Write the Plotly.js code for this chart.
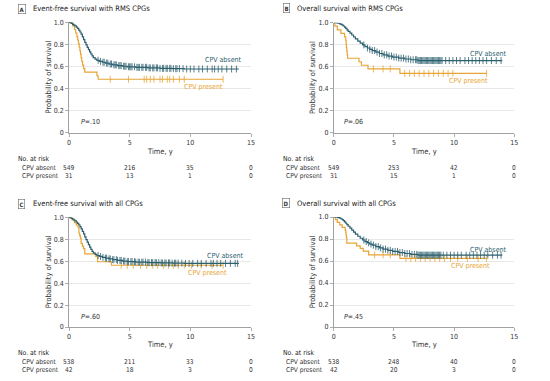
<!DOCTYPE html>
<html>
<head>
<meta charset="utf-8">
<script src="https://cdn.plot.ly/plotly-3.0.1.min.js"></script>
<style>html,body{margin:0;padding:0;background:#fff;}#chart{width:550px;height:381px;}</style>
</head>
<body>
<div id="chart"></div>
<script>
// ---------- DATA ----------
const panelTitles = ["Event-free survival with RMS CPGs", "Overall survival with RMS CPGs",
                     "Event-free survival with all CPGs", "Overall survival with all CPGs"];
const panelLetters = ["A", "B", "C", "D"];
const pValues = ["<i>P</i>=.10", "<i>P</i>=.06", "<i>P</i>=.60", "<i>P</i>=.45"];
const seriesNames = ["CPV absent", "CPV present"];
const xTicks = [0, 5, 10, 15];
const yTickVals = [0, 0.2, 0.4, 0.6, 0.8, 1.0];
const yTickText = ["0", "0.2", "0.4", "0.6", "0.8", "1.0"];

// Panel A – EFS, RMS CPGs
const tA_abs = [0, 0.1, 0.2, 0.3, 0.4, 0.5, 0.6, 0.7, 0.8, 0.9, 1.0, 1.1, 1.2, 1.3, 1.4, 1.5, 1.6, 1.7, 1.8, 1.9, 2.0, 2.15, 2.3, 2.5, 2.75, 3.0, 3.3, 3.6, 4.0, 4.4, 4.8, 5.5, 6.5, 7.5, 8.5, 9.5];
const sA_abs = [1, 0.995, 0.99, 0.982, 0.975, 0.967, 0.957, 0.945, 0.93, 0.912, 0.892, 0.868, 0.843, 0.818, 0.795, 0.773, 0.752, 0.732, 0.713, 0.696, 0.68, 0.667, 0.656, 0.646, 0.638, 0.63, 0.622, 0.615, 0.608, 0.602, 0.597, 0.592, 0.587, 0.583, 0.58, 0.577];
const endA_abs = 14.0;
const cA_abs = [2.4, 2.6, 2.8, 2.9, 3.1, 3.2, 3.4, 3.5, 3.7, 3.8, 3.9, 4.1, 4.2, 4.3, 4.5, 4.6, 4.7, 4.9, 5.0, 5.1, 5.2, 5.4, 5.6, 5.7, 5.8, 6.0, 6.1, 6.3, 6.4, 6.6, 6.7, 6.9, 7.0, 7.2, 7.3, 7.5, 7.7, 7.8, 8.0, 8.1, 8.3, 8.4, 8.6, 8.8, 8.9, 9.1, 9.4, 9.7, 10.0, 10.3, 10.7, 11.0, 11.4, 11.8, 12.0, 12.3, 12.6, 13.0, 13.4, 13.8];
const tA_pre = [0, 0.3, 0.45, 0.55, 0.65, 0.72, 0.78, 0.84, 0.9, 0.95, 1.0, 1.05, 1.12, 1.2, 1.3, 2.3, 2.4];
const sA_pre = [1, 0.968, 0.935, 0.903, 0.871, 0.839, 0.806, 0.774, 0.742, 0.71, 0.677, 0.645, 0.613, 0.581, 0.548, 0.516, 0.484];
const endA_pre = 12.7;
const cA_pre = [3.4, 4.9, 6.2, 6.4, 6.7, 7.0, 7.5, 7.7, 8.1, 8.3, 8.6, 9.1, 9.5, 12.7];
const riskA_abs = [549, 216, 35, 0];
const riskA_pre = [31, 13, 1, 0];

// Panel B – OS, RMS CPGs
const tB_abs = [0, 0.3, 0.5, 0.6, 0.7, 0.8, 0.9, 1.0, 1.1, 1.2, 1.35, 1.5, 1.65, 1.8, 2.0, 2.2, 2.4, 2.6, 2.8, 3.0, 3.2, 3.5, 3.8, 4.1, 4.5, 4.9, 5.4, 5.9, 6.4, 7.0];
const sB_abs = [1, 0.995, 0.99, 0.985, 0.978, 0.97, 0.96, 0.948, 0.935, 0.922, 0.905, 0.888, 0.87, 0.853, 0.833, 0.815, 0.798, 0.783, 0.77, 0.758, 0.747, 0.733, 0.72, 0.708, 0.697, 0.687, 0.678, 0.67, 0.663, 0.656];
const endB_abs = 14.0;
const cB_abs = [2.5, 2.8, 3.0, 3.2, 3.4, 3.6, 3.8, 4.0, 4.2, 4.4, 4.6, 4.8, 5.0, 5.2, 5.4, 5.6, 5.8, 6.0, 6.2, 6.4, 6.6, 6.8, 6.9, 7.0, 7.1, 7.2, 7.3, 7.4, 7.5, 7.6, 7.7, 7.8, 7.9, 8.0, 8.1, 8.2, 8.3, 8.4, 8.5, 8.6, 8.7, 8.8, 8.9, 9.0, 9.3, 9.6, 9.9, 10.2, 10.5, 10.9, 11.2, 11.5, 11.8, 12.1, 12.4, 12.7, 13.1, 13.5, 13.9];
const tB_pre = [0, 0.1, 0.3, 0.6, 0.9, 1.0, 1.03, 1.06, 1.09, 1.12, 1.15, 2.1, 2.3, 2.85, 5.5];
const sB_pre = [1, 0.968, 0.935, 0.903, 0.871, 0.839, 0.806, 0.774, 0.742, 0.71, 0.677, 0.645, 0.613, 0.58, 0.54];
const endB_pre = 12.7;
const cB_pre = [3.3, 4.1, 4.7, 5.9, 6.3, 6.7, 7.1, 7.5, 7.9, 8.3, 8.7, 9.1, 9.5, 9.9, 12.7];
const riskB_abs = [549, 253, 42, 0];
const riskB_pre = [31, 15, 1, 0];

// Panel C – EFS, all CPGs
const tC_abs = [0, 0.1, 0.2, 0.3, 0.4, 0.5, 0.6, 0.7, 0.8, 0.9, 1.0, 1.1, 1.2, 1.3, 1.4, 1.5, 1.6, 1.7, 1.8, 1.9, 2.0, 2.15, 2.3, 2.5, 2.75, 3.0, 3.3, 3.6, 4.0, 4.4, 4.8, 5.5, 6.5, 7.5, 8.5, 9.5];
const sC_abs = [1, 0.995, 0.99, 0.983, 0.975, 0.967, 0.957, 0.945, 0.932, 0.915, 0.895, 0.872, 0.848, 0.822, 0.797, 0.773, 0.75, 0.728, 0.708, 0.69, 0.675, 0.662, 0.652, 0.643, 0.635, 0.628, 0.621, 0.614, 0.607, 0.601, 0.596, 0.591, 0.587, 0.584, 0.582, 0.58];
const endC_abs = 14.0;
const cC_abs = [2.4, 2.6, 2.8, 3.0, 3.1, 3.3, 3.4, 3.6, 3.7, 3.9, 4.0, 4.2, 4.3, 4.5, 4.6, 4.8, 4.9, 5.1, 5.2, 5.4, 5.5, 5.7, 5.8, 6.0, 6.1, 6.3, 6.5, 6.6, 6.8, 6.9, 7.1, 7.2, 7.4, 7.6, 7.7, 7.9, 8.0, 8.2, 8.3, 8.5, 8.7, 8.8, 9.0, 9.3, 9.6, 9.9, 10.2, 10.6, 10.9, 11.3, 11.7, 11.9, 12.2, 12.5, 12.9, 13.3, 13.7, 13.9];
const tC_pre = [0, 0.25, 0.45, 0.6, 0.75, 0.82, 0.88, 0.94, 1.0, 1.1, 1.2, 1.3, 2.2, 2.35, 3.5];
const sC_pre = [1, 0.976, 0.952, 0.929, 0.905, 0.857, 0.833, 0.81, 0.762, 0.738, 0.714, 0.667, 0.643, 0.595, 0.563];
const endC_pre = 12.7;
const cC_pre = [4.3, 4.8, 5.3, 5.9, 6.4, 6.9, 7.3, 7.8, 8.2, 8.6, 9.0, 9.5, 10.1, 10.9, 11.8, 12.7];
const riskC_abs = [538, 211, 33, 0];
const riskC_pre = [42, 18, 3, 0];

// Panel D – OS, all CPGs
const tD_abs = [0, 0.3, 0.5, 0.6, 0.7, 0.8, 0.9, 1.0, 1.1, 1.2, 1.35, 1.5, 1.65, 1.8, 2.0, 2.2, 2.4, 2.6, 2.8, 3.0, 3.2, 3.5, 3.8, 4.1, 4.5, 4.9, 5.4, 5.9, 6.4, 7.0];
const sD_abs = [1, 0.995, 0.99, 0.984, 0.976, 0.967, 0.956, 0.943, 0.93, 0.916, 0.898, 0.88, 0.862, 0.845, 0.825, 0.807, 0.791, 0.777, 0.765, 0.754, 0.744, 0.731, 0.719, 0.708, 0.697, 0.687, 0.677, 0.668, 0.66, 0.653];
const endD_abs = 14.0;
const cD_abs = [2.5, 2.7, 2.9, 3.1, 3.3, 3.5, 3.7, 3.9, 4.1, 4.3, 4.5, 4.7, 4.9, 5.1, 5.3, 5.5, 5.7, 5.9, 6.1, 6.3, 6.5, 6.7, 6.9, 7.0, 7.1, 7.2, 7.3, 7.4, 7.5, 7.6, 7.7, 7.8, 7.9, 8.0, 8.1, 8.2, 8.3, 8.4, 8.5, 8.6, 8.7, 8.8, 8.9, 9.1, 9.4, 9.7, 10.0, 10.3, 10.6, 11.0, 11.3, 11.6, 11.9, 12.2, 12.5, 12.8, 13.2, 13.6, 13.9];
const tD_pre = [0, 0.15, 0.3, 0.5, 0.7, 0.95, 1.0, 1.03, 1.06, 1.09, 1.9, 2.2, 2.45, 2.9, 5.5];
const sD_pre = [1, 0.976, 0.952, 0.929, 0.905, 0.881, 0.857, 0.833, 0.81, 0.762, 0.738, 0.714, 0.69, 0.655, 0.624];
const endD_pre = 12.7;
const cD_pre = [3.4, 4.1, 4.7, 6.0, 6.4, 6.8, 7.2, 7.6, 8.0, 8.4, 8.8, 9.2, 9.7, 10.3, 11.1, 12.0, 12.7];
const riskD_abs = [538, 248, 40, 0];
const riskD_pre = [42, 20, 3, 0];

// ---------- STYLE / LAYOUT ----------
const W = 550, H = 381;
const FONT = "Liberation Sans Narrow, DejaVu Sans Condensed, Arial Narrow, sans-serif";
const colAbs = "#2b5f6e";
const colPre = "#e8a434";
const txt = "#333333";

const panels = [
  {t1: tA_abs, s1: sA_abs, e1: endA_abs, c1: cA_abs, t2: tA_pre, s2: sA_pre, e2: endA_pre, c2: cA_pre, r1: riskA_abs, r2: riskA_pre,
   px: [69, 251], py: [22.3, 132.7], boxX: 21.5, titleX: 31, titleY: 8.5, riskY: [159.3, 168, 176.5], riskX: [17, 21],
   ytX: 48, xtY: 151, absLbl: [12.7, 0.655], preLbl: [11.1, 0.41], pLbl: [1.75, 0.1]},
  {t1: tB_abs, s1: sB_abs, e1: endB_abs, c1: cB_abs, t2: tB_pre, s2: sB_pre, e2: endB_pre, c2: cB_pre, r1: riskB_abs, r2: riskB_pre,
   px: [333.7, 514.3], py: [22.7, 132.7], boxX: 286, titleX: 295, titleY: 8.3, riskY: [159.3, 168, 176.5], riskX: [282, 285],
   ytX: 312.3, xtY: 151, absLbl: [12.84, 0.72], preLbl: [11.18, 0.47], pLbl: [1.65, 0.1]},
  {t1: tC_abs, s1: sC_abs, e1: endC_abs, c1: cC_abs, t2: tC_pre, s2: sC_pre, e2: endC_pre, c2: cC_pre, r1: riskC_abs, r2: riskC_pre,
   px: [69, 251], py: [217.3, 327], boxX: 21.5, titleX: 31, titleY: 203.7, riskY: [352.5, 361.7, 370.3], riskX: [17, 21],
   ytX: 48, xtY: 344.3, absLbl: [12.86, 0.65], preLbl: [11.4, 0.495], pLbl: [1.75, 0.094]},
  {t1: tD_abs, s1: sD_abs, e1: endD_abs, c1: cD_abs, t2: tD_pre, s2: sD_pre, e2: endD_pre, c2: cD_pre, r1: riskD_abs, r2: riskD_pre,
   px: [333.7, 514.3], py: [217, 327], boxX: 286, titleX: 295, titleY: 203.3, riskY: [352.5, 361.7, 370.3], riskX: [282, 285],
   ytX: 312.3, xtY: 344.3, absLbl: [12.84, 0.70], preLbl: [11.4, 0.555], pLbl: [1.65, 0.094]}
];

function survAt(t, s, time) {
  let v = s[0];
  for (let i = 0; i < t.length; i++) { if (t[i] <= time) v = s[i]; }
  return v;
}

const traces = [];
const annotations = [];
const layout = {
  width: W, height: H, margin: {l: 0, r: 0, t: 0, b: 0},
  paper_bgcolor: "#fff", plot_bgcolor: "#fff", showlegend: false,
  font: {family: FONT, size: 7, color: txt}
};

panels.forEach((p, i) => {
  const k = i === 0 ? "" : String(i + 1);
  const xa = "x" + k, ya = "y" + k;
  layout["xaxis" + k] = {
    domain: [p.px[0] / W, p.px[1] / W], anchor: ya, range: [0, 15],
    tickvals: xTicks, ticks: "outside", ticklen: 3, tickwidth: 0.7, tickcolor: "#8a8a8a",
    showline: true, linecolor: "#8a8a8a", linewidth: 0.8, showgrid: false, zeroline: false,
    tickfont: {size: 7, color: txt, family: FONT}, fixedrange: true
  };
  layout["yaxis" + k] = {
    domain: [1 - p.py[1] / H, 1 - p.py[0] / H], anchor: xa, range: [0, 1],
    tickvals: yTickVals, ticktext: yTickText, ticks: "outside", ticklen: 3, tickwidth: 0.7, tickcolor: "#8a8a8a",
    showline: true, linecolor: "#8a8a8a", linewidth: 0.8, showgrid: true, gridcolor: "#dedede", gridwidth: 0.7,
    zeroline: false, tickfont: {size: 7, color: txt, family: FONT}, fixedrange: true
  };

  const groups = [
    {t: p.t1, s: p.s1, e: p.e1, c: p.c1, col: colAbs},
    {t: p.t2, s: p.s2, e: p.e2, c: p.c2, col: colPre}
  ];
  [groups[1], groups[0]].forEach(g => {
    traces.push({
      type: "scatter", mode: "lines", xaxis: xa, yaxis: ya, cliponaxis: false,
      x: g.t.concat([g.e]), y: g.s.concat([g.s[g.s.length - 1]]),
      line: {shape: "hv", color: g.col, width: 1.2}, hoverinfo: "skip"
    });
    traces.push({
      type: "scatter", mode: "markers", xaxis: xa, yaxis: ya, cliponaxis: false,
      x: g.c, y: g.c.map(c => survAt(g.t, g.s, c)),
      marker: {symbol: "line-ns", size: 5, line: {color: g.col, width: 0.8}}, hoverinfo: "skip"
    });
  });

  annotations.push({xref: "paper", yref: "paper", x: p.boxX / W, y: 1 - p.titleY / H, xanchor: "center", yanchor: "middle",
    text: "<b>" + panelLetters[i] + "</b>", showarrow: false, font: {size: 6, color: txt, family: FONT},
    bordercolor: "#666", borderwidth: 0.6, borderpad: 1});
  annotations.push({xref: "paper", yref: "paper", x: p.titleX / W, y: 1 - p.titleY / H, xanchor: "left", yanchor: "middle",
    text: panelTitles[i], showarrow: false, font: {size: 7.5, color: "#222", family: FONT}});
  annotations.push({xref: "paper", yref: "paper", x: p.ytX / W, y: 1 - (p.py[0] + p.py[1]) / 2 / H, xanchor: "center", yanchor: "middle",
    text: "Probability of survival", textangle: -90, showarrow: false, font: {size: 7.5, color: txt, family: FONT}});
  annotations.push({xref: xa, yref: "paper", x: 7.5, y: 1 - p.xtY / H, xanchor: "center", yanchor: "middle",
    text: "Time, y", showarrow: false, font: {size: 7.5, color: txt, family: FONT}});
  annotations.push({xref: xa, yref: ya, x: p.absLbl[0], y: p.absLbl[1], xanchor: "center", yanchor: "middle",
    text: seriesNames[0], showarrow: false, font: {size: 7, color: colAbs, family: FONT}});
  annotations.push({xref: xa, yref: ya, x: p.preLbl[0], y: p.preLbl[1], xanchor: "center", yanchor: "middle",
    text: seriesNames[1], showarrow: false, font: {size: 7, color: colPre, family: FONT}});
  annotations.push({xref: xa, yref: ya, x: p.pLbl[0], y: p.pLbl[1], xanchor: "center", yanchor: "middle",
    text: pValues[i], showarrow: false, font: {size: 7, color: txt, family: FONT}});
  annotations.push({xref: "paper", yref: "paper", x: p.riskX[0] / W, y: 1 - p.riskY[0] / H, xanchor: "left", yanchor: "middle",
    text: "No. at risk", showarrow: false, font: {size: 6.8, color: "#222", family: FONT}, borderpad: 0});
  [p.r1, p.r2].forEach((row, j) => {
    annotations.push({xref: "paper", yref: "paper", x: p.riskX[1] / W, y: 1 - p.riskY[j + 1] / H, xanchor: "left", yanchor: "middle",
      text: seriesNames[j], showarrow: false, font: {size: 6.6, color: txt, family: FONT}, borderpad: 0});
    row.forEach((n, m) => {
      annotations.push({xref: xa, yref: "paper", x: xTicks[m], y: 1 - p.riskY[j + 1] / H, xanchor: "center", yanchor: "middle",
        text: String(n), showarrow: false, font: {size: 6.6, color: txt, family: FONT}, borderpad: 0});
    });
  });
});

layout.annotations = annotations;
Plotly.newPlot("chart", traces, layout, {staticPlot: true, displayModeBar: false});
</script>
</body>
</html>
